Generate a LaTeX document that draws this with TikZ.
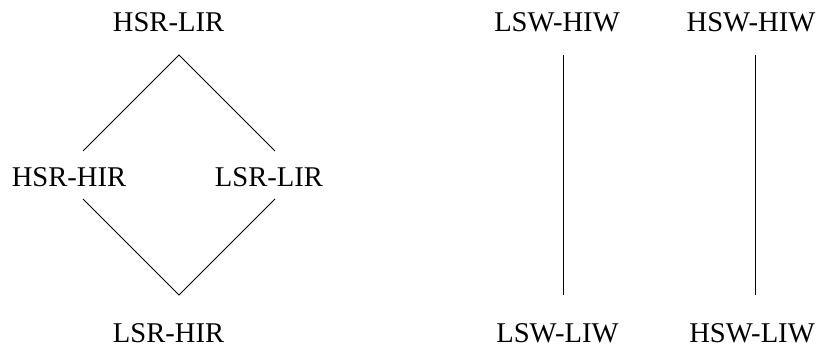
\documentclass[tikz,border=0pt]{standalone}
\usepackage{fontspec}
\setmainfont{Liberation Serif}
\begin{document}
\begin{tikzpicture}[x=1pt,y=1pt,
  lbl/.style={inner sep=0pt,anchor=base,font=\fontsize{28.6}{34}\selectfont},
  edge/.style={line width=0.8pt,draw=black}]
\useasboundingbox (0,0) rectangle (821,354);
% lattice of the S/R states
\node[lbl] (hsrlir) at (168.5,322) {HSR-LIR};
\node[lbl] (hsrhir) at (69,168) {HSR-HIR};
\node[lbl] (lsrlir) at (269,168) {LSR-LIR};
\node[lbl] (lsrhir) at (168.5,12) {LSR-HIR};
\coordinate (dtop) at (179,299);
\coordinate (dleftup) at (83,203);
\coordinate (drightup) at (275,203);
\coordinate (dleftlo) at (83,155);
\coordinate (drightlo) at (275,155);
\coordinate (dbot) at (179,59);
\draw[edge] (dleftup) -- (dtop) -- (drightup);
\draw[edge] (dleftlo) -- (dbot) -- (drightlo);
% the two W chains
\node[lbl] (lswhiw) at (557,322) {LSW-HIW};
\node[lbl] (hswhiw) at (751,322) {HSW-HIW};
\node[lbl] (lswliw) at (557.5,12) {LSW-LIW};
\node[lbl] (hswliw) at (752,12) {HSW-LIW};
\coordinate (wlt) at (563,299);
\coordinate (wlb) at (563,59);
\coordinate (wrt) at (755,299);
\coordinate (wrb) at (755,59);
\draw[edge] (wlt) -- (wlb);
\draw[edge] (wrt) -- (wrb);
\end{tikzpicture}
\end{document}
